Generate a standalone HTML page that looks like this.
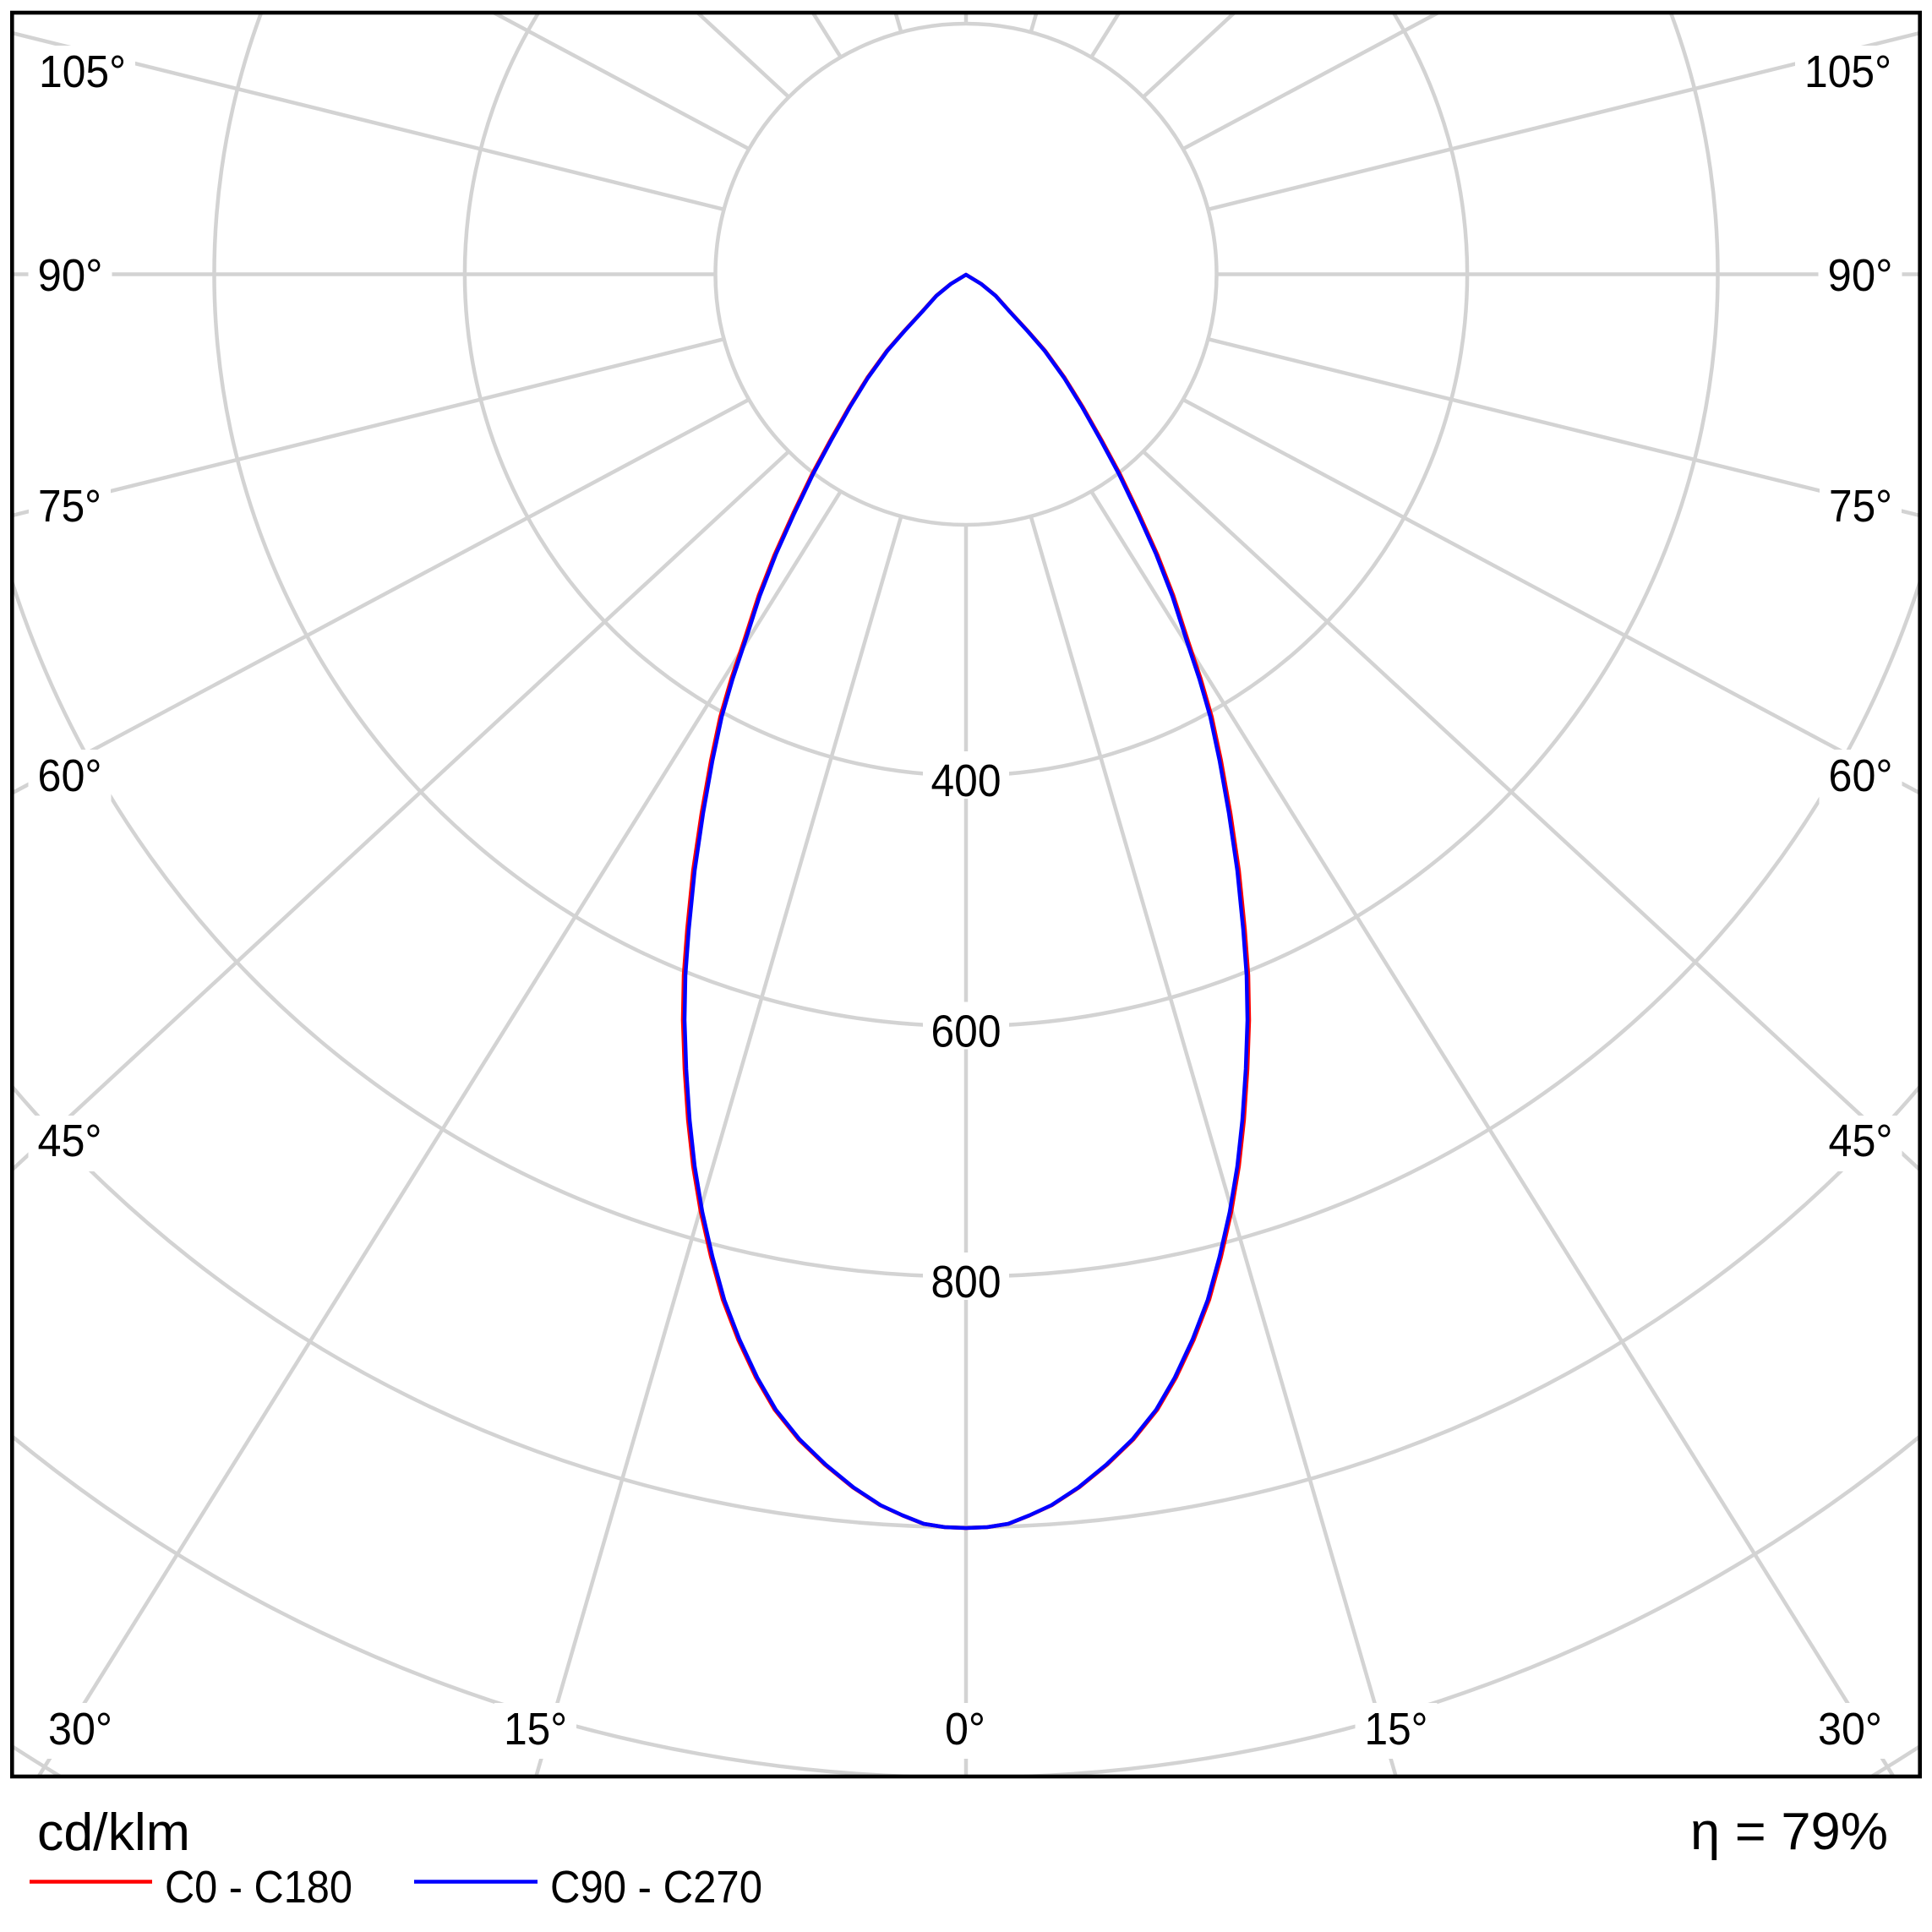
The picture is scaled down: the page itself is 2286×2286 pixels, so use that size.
<!DOCTYPE html>
<html>
<head>
<meta charset="utf-8">
<style>
html,body{margin:0;padding:0;background:#fff;width:2286px;height:2286px;overflow:hidden}
svg{display:block}
text{font-family:"Liberation Sans", "DejaVu Sans", sans-serif;fill:#000}
</style>
</head>
<body>
<svg width="2286" height="2286" viewBox="0 0 2286 2286" xmlns="http://www.w3.org/2000/svg">
<defs>
<clipPath id="c"><rect x="14" y="15" width="2258" height="2087"/></clipPath>
</defs>
<rect width="2286" height="2286" fill="#fff"/>

<!-- grid -->
<g clip-path="url(#c)" stroke="#d3d3d3" stroke-width="4.5" fill="none">
  <circle cx="1143" cy="324.5" r="296.5"/>
  <path d="M637.2 15 A593 593 0 1 0 1648.8 15"/>
  <path d="M309.1 15 A889.5 889.5 0 1 0 1976.9 15"/>
  <path d="M14 687.8 A1186 1186 0 0 0 2272 687.8"/>
  <path d="M14 1285.3 A1482.5 1482.5 0 0 0 2272 1285.3"/>
  <path d="M14 1699.3 A1779 1779 0 0 0 2272 1699.3"/>
  <path d="M14 2066.1 A2075.5 2075.5 0 0 0 71.5 2102"/>
  <path d="M2214.5 2102 A2075.5 2075.5 0 0 0 2272 2066.1"/>

  <!-- spokes left -->
  <line x1="1143" y1="621" x2="1143" y2="2102"/>
  <line x1="1066.26" y1="610.9" x2="634.3" y2="2102"/>
  <line x1="994.75" y1="581.28" x2="45.6" y2="2102"/>
  <line x1="933.34" y1="534.16" x2="14" y2="1384.5"/>
  <line x1="886.22" y1="472.75" x2="14" y2="938.6"/>
  <line x1="856.6" y1="401.24" x2="14" y2="610.1"/>
  <line x1="846.5" y1="324.5" x2="14" y2="324.5"/>
  <line x1="856.6" y1="247.76" x2="14" y2="38.9"/>
  <line x1="886.22" y1="176.25" x2="584.3" y2="15"/>
  <line x1="933.34" y1="114.84" x2="825.4" y2="15"/>
  <line x1="994.75" y1="67.72" x2="961.8" y2="15"/>
  <line x1="1066.26" y1="38.1" x2="1059.6" y2="15"/>
  <line x1="1143" y1="28" x2="1143" y2="15"/>
  <!-- spokes right -->
  <line x1="1219.74" y1="610.9" x2="1651.7" y2="2102"/>
  <line x1="1291.25" y1="581.28" x2="2240.4" y2="2102"/>
  <line x1="1352.66" y1="534.16" x2="2272" y2="1384.5"/>
  <line x1="1399.78" y1="472.75" x2="2272" y2="938.6"/>
  <line x1="1429.4" y1="401.24" x2="2272" y2="610.1"/>
  <line x1="1439.5" y1="324.5" x2="2272" y2="324.5"/>
  <line x1="1429.4" y1="247.76" x2="2272" y2="38.9"/>
  <line x1="1399.78" y1="176.25" x2="1701.7" y2="15"/>
  <line x1="1352.66" y1="114.84" x2="1460.6" y2="15"/>
  <line x1="1291.25" y1="67.72" x2="1324.2" y2="15"/>
  <line x1="1219.74" y1="38.1" x2="1226.4" y2="15"/>
</g>

<!-- label boxes -->
<g fill="#fff" stroke="none">
  <rect x="35" y="54" width="125" height="66"/>
  <rect x="33.5" y="295" width="99" height="66"/>
  <rect x="34" y="568" width="97" height="66"/>
  <rect x="33.5" y="887" width="98" height="66"/>
  <rect x="33.5" y="1320" width="98" height="66"/>
  <rect x="46" y="2015" width="98" height="66"/>
  <rect x="585" y="2015" width="97" height="66"/>
  <rect x="1107" y="2015" width="70" height="66"/>
  <rect x="1603.5" y="2015" width="97" height="66"/>
  <rect x="2140" y="2015" width="98" height="66"/>
  <rect x="2124" y="54" width="125" height="66"/>
  <rect x="2151.5" y="295" width="99" height="66"/>
  <rect x="2153" y="568" width="97" height="66"/>
  <rect x="2152.5" y="887" width="98" height="66"/>
  <rect x="2152.5" y="1320" width="98" height="66"/>
  <rect x="1092" y="889" width="102" height="56"/>
  <rect x="1092" y="1185.5" width="102" height="56"/>
  <rect x="1092" y="1482" width="102" height="56"/>
</g>

<!-- labels -->
<g font-size="54" text-anchor="middle">
  <text x="97.5" y="103" textLength="103" lengthAdjust="spacingAndGlyphs">105°</text>
  <text x="83" y="344" textLength="77" lengthAdjust="spacingAndGlyphs">90°</text>
  <text x="82.5" y="617" textLength="75" lengthAdjust="spacingAndGlyphs">75°</text>
  <text x="82.5" y="936" textLength="76" lengthAdjust="spacingAndGlyphs">60°</text>
  <text x="82.5" y="1368" textLength="76" lengthAdjust="spacingAndGlyphs">45°</text>
  <text x="95" y="2064" textLength="76" lengthAdjust="spacingAndGlyphs">30°</text>
  <text x="633.6" y="2064" textLength="75" lengthAdjust="spacingAndGlyphs">15°</text>
  <text x="1142" y="2064" textLength="48" lengthAdjust="spacingAndGlyphs">0°</text>
  <text x="1652" y="2064" textLength="75" lengthAdjust="spacingAndGlyphs">15°</text>
  <text x="2189" y="2064" textLength="76" lengthAdjust="spacingAndGlyphs">30°</text>
  <text x="2186.5" y="103" textLength="103" lengthAdjust="spacingAndGlyphs">105°</text>
  <text x="2201" y="344" textLength="77" lengthAdjust="spacingAndGlyphs">90°</text>
  <text x="2201.5" y="617" textLength="75" lengthAdjust="spacingAndGlyphs">75°</text>
  <text x="2201.5" y="936" textLength="76" lengthAdjust="spacingAndGlyphs">60°</text>
  <text x="2201.5" y="1368" textLength="76" lengthAdjust="spacingAndGlyphs">45°</text>
  <text x="1143" y="942" textLength="83" lengthAdjust="spacingAndGlyphs">400</text>
  <text x="1143" y="1238.5" textLength="83" lengthAdjust="spacingAndGlyphs">600</text>
  <text x="1143" y="1535" textLength="83" lengthAdjust="spacingAndGlyphs">800</text>
</g>

<!-- curves -->
<g fill="none" stroke-width="4.5" stroke-linejoin="round" stroke-linecap="round">
  <polyline stroke="#ff0000" transform="translate(1143 0) scale(1.006 1) translate(-1143 0)" points="1143,325 1125,336 1108,350 1092,368 1070,392 1050,415 1027,447 1006,481 984,520 962,561 940,607 918,656 899,705 882,758 867,803 854,848 843,900 832,962 822,1030 815,1100 811,1154 810,1207 812,1265 816,1325 822,1380 831,1434 843,1487 857,1538 875,1585 896,1630 918,1668 946,1703 977,1733 1010,1760 1042,1781 1068,1793 1093,1803 1118,1807 1143,1808 1168,1807 1193,1803 1218,1793 1244,1781 1276,1760 1309,1733 1340,1703 1368,1668 1390,1630 1411,1585 1429,1538 1443,1487 1455,1434 1464,1380 1470,1325 1474,1265 1476,1207 1475,1154 1471,1100 1464,1030 1454,962 1443,900 1432,848 1419,803 1404,758 1387,705 1368,656 1346,607 1324,561 1302,520 1280,481 1259,447 1236,415 1216,392 1194,368 1178,350 1161,336 1143,325"/>
  <polyline stroke="#0000ff" points="1143,325 1125,336 1108,350 1092,368 1070,392 1050,415 1027,447 1006,481 984,520 962,561 940,607 918,656 899,705 882,758 867,803 854,848 843,900 832,962 822,1030 815,1100 811,1154 810,1207 812,1265 816,1325 822,1380 831,1434 843,1487 857,1538 875,1585 896,1630 918,1668 946,1703 977,1733 1010,1760 1042,1781 1068,1793 1093,1803 1118,1807 1143,1808 1168,1807 1193,1803 1218,1793 1244,1781 1276,1760 1309,1733 1340,1703 1368,1668 1390,1630 1411,1585 1429,1538 1443,1487 1455,1434 1464,1380 1470,1325 1474,1265 1476,1207 1475,1154 1471,1100 1464,1030 1454,962 1443,900 1432,848 1419,803 1404,758 1387,705 1368,656 1346,607 1324,561 1302,520 1280,481 1259,447 1236,415 1216,392 1194,368 1178,350 1161,336 1143,325"/>
</g>

<!-- frame -->
<rect x="14.3" y="15" width="2257.4" height="2087" fill="none" stroke="#000" stroke-width="4.6"/>

<!-- legend -->
<text x="44" y="2189" font-size="62" textLength="181" lengthAdjust="spacingAndGlyphs">cd/klm</text>
<line x1="35" y1="2226.5" x2="180" y2="2226.5" stroke="#ff0000" stroke-width="4.5"/>
<text x="195" y="2251" font-size="54" textLength="222" lengthAdjust="spacingAndGlyphs">C0 - C180</text>
<line x1="490" y1="2226.5" x2="636" y2="2226.5" stroke="#0000ff" stroke-width="4.5"/>
<text x="651" y="2251" font-size="54" textLength="251" lengthAdjust="spacingAndGlyphs">C90 - C270</text>
<text x="2000" y="2188" font-size="62" textLength="234" lengthAdjust="spacingAndGlyphs">η = 79%</text>
</svg>
</body>
</html>
